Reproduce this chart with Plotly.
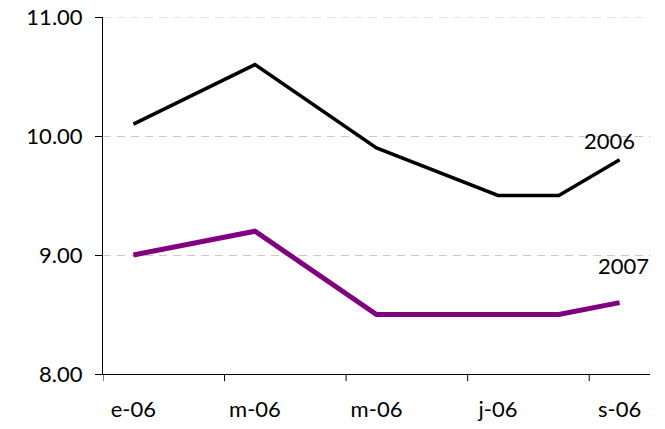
import plotly.graph_objects as go

months = ["e-06", "f-06", "m-06", "a-06", "m-06", "j-06", "j-06", "a-06", "s-06"]
y2006 = [10.1, None, 10.6, None, 9.9, None, 9.5, 9.5, 9.8]
y2007 = [9.0, None, 9.2, None, 8.5, None, 8.5, 8.5, 8.6]
label_idx = [0, 2, 4, 6, 8]
y_ticks = [8, 9, 10, 11]

FONT = "Lato"
x = list(range(len(months)))

fig = go.Figure()
fig.add_trace(go.Scatter(x=x, y=y2006, mode="lines", connectgaps=True,
                         line=dict(color="#000000", width=3.5), name="2006"))
fig.add_trace(go.Scatter(x=x, y=y2007, mode="lines", connectgaps=True,
                         line=dict(color="#800080", width=5), name="2007"))

# series labels near the last point
fig.add_annotation(x=8, y=y2006[-1], text="2006", showarrow=False,
                   xshift=-10, yshift=19, font=dict(size=22, color="#000"))
fig.add_annotation(x=8, y=y2007[-1], text="2007", showarrow=False,
                   xshift=4, yshift=37, font=dict(size=22, color="#000"))

# category-boundary tick marks every two months (Excel style)
for b in [-0.5, 1.5, 3.5, 5.5, 7.5]:
    fig.add_shape(type="line", xref="x", yref="paper", x0=b, x1=b, y0=0, y1=-0.02,
                  line=dict(color="#000", width=1))

# top gridline (at the range edge)
fig.add_shape(type="line", xref="paper", yref="y", x0=0, x1=1, y0=11, y1=11,
              line=dict(color="#c8c8c8", width=1, dash="8px,6px"), layer="below")

fig.update_layout(
    width=665, height=429, showlegend=False,
    margin=dict(l=103, r=15, t=17, b=55, autoexpand=False),
    plot_bgcolor="white", paper_bgcolor="white",
    font=dict(family=FONT, size=22, color="#000"),
)
fig.update_xaxes(range=[-0.5, 8.5], tickvals=label_idx,
                 ticktext=[months[i] for i in label_idx], ticks="",
                 showgrid=False, showline=True, linecolor="#000", linewidth=1,
                 zeroline=False, ticklabelstandoff=16, automargin=False)
fig.update_yaxes(range=[8, 11], tickvals=y_ticks,
                 ticktext=[f"{v:.2f}" for v in y_ticks],
                 ticks="outside", ticklen=7, tickcolor="#000",
                 showline=True, linecolor="#000", linewidth=1,
                 showgrid=True, gridcolor="#c8c8c8", griddash="8px,6px", gridwidth=1,
                 zeroline=False, ticklabelstandoff=8, ticklabeloverflow="allow",
                 automargin=False)

fig.write_html("out.html", config={"displayModeBar": False},
               post_script="document.body.style.margin='0';")
